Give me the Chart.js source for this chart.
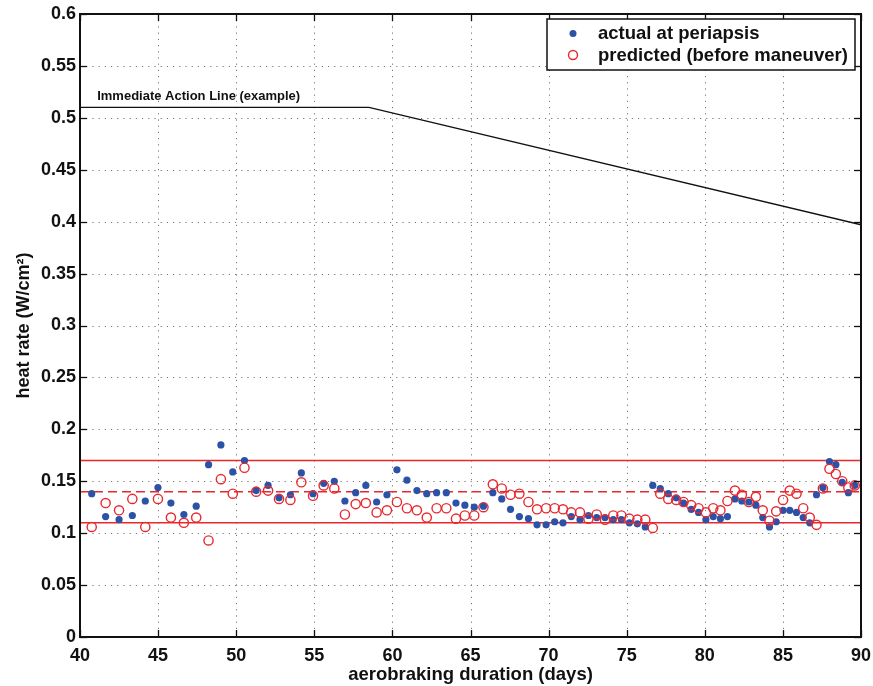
<!DOCTYPE html>
<html>
<head>
<meta charset="utf-8">
<script src="https://cdn.jsdelivr.net/npm/chart.js@4"></script>
<style>
html,body{margin:0;padding:0;background:#fff;}
#wrap{width:873px;height:686px;}
</style>
</head>
<body>
<div id="wrap"><canvas id="c" width="873" height="686"></canvas></div>
<script>
// ---- data ----
const days = [40.75,41.64,42.5,43.35,44.18,44.99,45.82,46.65,47.44,48.23,49.02,49.78,50.53,51.28,52.04,52.74,53.47,54.17,54.92,55.6,56.28,56.96,57.65,58.3,58.99,59.65,60.29,60.93,61.57,62.2,62.83,63.45,64.07,64.64,65.24,65.83,66.43,67.0,67.56,68.13,68.71,69.26,69.84,70.39,70.92,71.45,72.01,72.55,73.08,73.61,74.14,74.66,75.17,75.68,76.19,76.67,77.15,77.66,78.17,78.64,79.13,79.6,80.07,80.54,81.0,81.45,81.93,82.37,82.82,83.27,83.71,84.14,84.57,85.01,85.44,85.87,86.3,86.72,87.15,87.56,87.98,88.39,88.8,89.19,89.6];
const actual = [0.138,0.116,0.113,0.117,0.131,0.144,0.129,0.118,0.126,0.166,0.185,0.159,0.170,0.141,0.146,0.134,0.137,0.158,0.138,0.148,0.150,0.131,0.139,0.146,0.130,0.137,0.161,0.151,0.141,0.138,0.139,0.139,0.129,0.127,0.125,0.126,0.139,0.133,0.123,0.116,0.114,0.108,0.108,0.111,0.110,0.116,0.113,0.117,0.115,0.115,0.113,0.113,0.110,0.109,0.106,0.146,0.143,0.138,0.134,0.129,0.123,0.120,0.113,0.116,0.114,0.116,0.133,0.131,0.130,0.127,0.115,0.106,0.111,0.122,0.122,0.120,0.115,0.110,0.137,0.144,0.169,0.166,0.149,0.139,0.146];
const predicted = [0.106,0.129,0.122,0.133,0.106,0.133,0.115,0.110,0.115,0.093,0.152,0.138,0.163,0.140,0.141,0.133,0.132,0.149,0.136,0.146,0.143,0.118,0.128,0.129,0.120,0.122,0.130,0.124,0.122,0.115,0.124,0.124,0.114,0.117,0.117,0.125,0.147,0.143,0.137,0.138,0.130,0.123,0.124,0.124,0.123,0.120,0.120,0.114,0.118,0.113,0.117,0.117,0.114,0.113,0.113,0.105,0.138,0.133,0.132,0.130,0.127,0.124,0.120,0.124,0.122,0.131,0.141,0.137,0.130,0.135,0.122,0.112,0.121,0.132,0.141,0.138,0.124,0.115,0.108,0.143,0.162,0.157,0.150,0.144,0.146];
const actionLineX = [40, 58.5, 90];
const actionLineY = [0.51, 0.51, 0.397];
const upperLimit = 0.17;
const targetLevel = 0.14;
const lowerLimit = 0.11;
const xTicks = [40,45,50,55,60,65,70,75,80,85,90];
const yTicks = [0,0.05,0.1,0.15,0.2,0.25,0.3,0.35,0.4,0.45,0.5,0.55,0.6];
const legendLabels = ['actual at periapsis','predicted (before maneuver)'];
const actionLabel = 'Immediate Action Line (example)';

const BLUE = '#2b52a6';
const RED = '#e8282e';
const FONT = '"Liberation Sans", Arial, Helvetica, sans-serif';

const pts = (xs, ys) => xs.map((x,i)=>({x:x, y:ys[i]}));
const hline = v => [{x:40,y:v},{x:90,y:v}];

const framePlugin = {
  id:'frame',
  beforeDatasetsDraw(chart){
    const {ctx, chartArea:a, scales:{x,y}} = chart;
    ctx.save();
    ctx.strokeStyle = '#777';
    ctx.lineWidth = 1;
    ctx.setLineDash([1.2,5]);
    xTicks.slice(1,-1).forEach(v=>{
      const px = Math.round(x.getPixelForValue(v))+0.5;
      ctx.beginPath(); ctx.moveTo(px,a.top); ctx.lineTo(px,a.bottom); ctx.stroke();
    });
    yTicks.slice(1,-1).forEach(v=>{
      const py = Math.round(y.getPixelForValue(v))+0.5;
      ctx.beginPath(); ctx.moveTo(a.left,py); ctx.lineTo(a.right,py); ctx.stroke();
    });
    ctx.restore();
  },
  afterDatasetsDraw(chart){
    const {ctx, chartArea:a, scales:{x,y}} = chart;
    ctx.save();
    ctx.strokeStyle = '#111';
    ctx.lineWidth = 1.3;
    const tl = 7;
    xTicks.forEach(v=>{
      const px = Math.round(x.getPixelForValue(v))+0.5;
      ctx.beginPath(); ctx.moveTo(px,a.bottom); ctx.lineTo(px,a.bottom-tl); ctx.stroke();
      ctx.beginPath(); ctx.moveTo(px,a.top); ctx.lineTo(px,a.top+tl); ctx.stroke();
    });
    yTicks.forEach(v=>{
      const py = Math.round(y.getPixelForValue(v))+0.5;
      ctx.beginPath(); ctx.moveTo(a.left,py); ctx.lineTo(a.left+tl,py); ctx.stroke();
      ctx.beginPath(); ctx.moveTo(a.right,py); ctx.lineTo(a.right-tl,py); ctx.stroke();
    });
    ctx.lineWidth = 2;
    ctx.strokeRect(a.left, a.top, a.right-a.left, a.bottom-a.top);
    ctx.restore();
  },
  afterDraw(chart){
    const {ctx, scales:{x,y}} = chart;
    ctx.save();
    // action line label
    ctx.fillStyle = '#111';
    ctx.font = 'bold 13px ' + FONT;
    ctx.textBaseline = 'alphabetic';
    ctx.textAlign = 'left';
    ctx.fillText(actionLabel, x.getPixelForValue(41.1), y.getPixelForValue(0.51) - 7);
    // legend
    const lx = 547, ly = 19, lw = 308, lh = 51;
    ctx.fillStyle = '#fff';
    ctx.fillRect(lx, ly, lw, lh);
    ctx.strokeStyle = '#111';
    ctx.lineWidth = 1.5;
    ctx.strokeRect(lx, ly, lw, lh);
    ctx.fillStyle = BLUE;
    ctx.beginPath(); ctx.arc(573, 33.5, 3.5, 0, Math.PI*2); ctx.fill();
    ctx.strokeStyle = RED; ctx.lineWidth = 1.4;
    ctx.beginPath(); ctx.arc(573, 55, 4.5, 0, Math.PI*2); ctx.stroke();
    ctx.fillStyle = '#111';
    ctx.font = 'bold 18.5px ' + FONT;
    ctx.textBaseline = 'middle';
    ctx.fillText(legendLabels[0], 598, 33.5);
    ctx.fillText(legendLabels[1], 598, 55.5);
    ctx.restore();
  }
};

new Chart(document.getElementById('c'), {
  type: 'scatter',
  data: {
    datasets: [
      {label: legendLabels[1], data: pts(days, predicted), order: 0,
       pointRadius: 4.6, pointBorderWidth: 1.4, pointBorderColor: RED, pointBackgroundColor: 'rgba(0,0,0,0)', showLine:false},
      {label: legendLabels[0], data: pts(days, actual), order: 1,
       pointRadius: 3.6, pointBorderWidth: 0, pointBackgroundColor: BLUE, pointBorderColor: BLUE, showLine:false},
      {label: 'upper', data: hline(upperLimit), order: 2, showLine:true, pointRadius:0, borderColor: RED, borderWidth: 1.5},
      {label: 'target', data: hline(targetLevel), order: 2, showLine:true, pointRadius:0, borderColor: RED, borderWidth: 1.5, borderDash:[9,5]},
      {label: 'lower', data: hline(lowerLimit), order: 2, showLine:true, pointRadius:0, borderColor: RED, borderWidth: 1.5},
      {label: 'action', data: pts(actionLineX, actionLineY), order: 2, showLine:true, pointRadius:0, borderColor: '#111', borderWidth: 1.3}
    ]
  },
  options: {
    responsive: false,
    animation: false,
    events: [],
    layout: {padding: {top: 14, right: 12, left: 0, bottom: 0}},
    plugins: {legend: {display:false}, tooltip: {enabled:false}},
    scales: {
      x: {
        type: 'linear', min: 40, max: 90,
        afterBuildTicks: s => { s.ticks = xTicks.map(v=>({value:v})); },
        afterFit: s => { s.height = 49; s.paddingLeft = 0; s.paddingRight = 0; },
        grid: {display:false, drawTicks:false},
        border: {display:false},
        ticks: {color:'#111', font:{family:FONT, size:18, weight:'bold'}, padding: 8, maxRotation:0, autoSkip:false},
        title: {display:true, text:'aerobraking duration (days)', color:'#111', font:{family:FONT, size:18.5, weight:'bold'}, padding:{top:0,bottom:0}}
      },
      y: {
        type: 'linear', min: 0, max: 0.6,
        afterBuildTicks: s => { s.ticks = yTicks.map(v=>({value:v})); },
        afterFit: s => { s.width = 80; s.paddingTop = 0; s.paddingBottom = 0; },
        grid: {display:false, drawTicks:false},
        border: {display:false},
        ticks: {color:'#111', font:{family:FONT, size:18, weight:'bold'}, padding: 4, autoSkip:false,
                callback: v => String(Number(v.toFixed(2)))},
        title: {display:true, text:'heat rate (W/cm\u00B2)', color:'#111', font:{family:FONT, size:18, weight:'bold'}, padding:{top:13,bottom:0}}
      }
    }
  },
  plugins: [framePlugin]
});
</script>
</body>
</html>
